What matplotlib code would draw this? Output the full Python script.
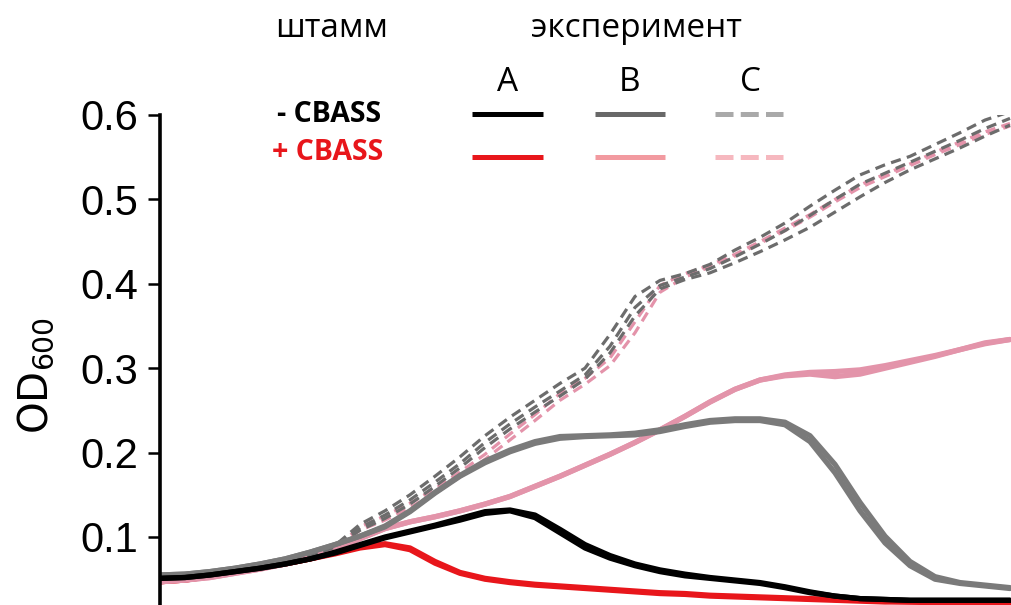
import matplotlib
matplotlib.use("Agg")
import matplotlib.pyplot as plt
from matplotlib.lines import Line2D

plt.rcParams['mathtext.fontset'] = 'custom'
plt.rcParams['mathtext.rm'] = 'Liberation Sans'
plt.rcParams['mathtext.it'] = 'Liberation Sans'

W, H = 1011, 605

# time axis (hours), one sample every 0.25 h
time_h = [0.25 * i for i in range(35)]

# A, -CBASS (black), two replicates
a_minus_1 = [0.051, 0.052, 0.055, 0.059, 0.063, 0.068, 0.074, 0.081, 0.090, 0.099,
             0.106, 0.113, 0.120, 0.128, 0.131, 0.123, 0.105, 0.087, 0.075, 0.066,
             0.059, 0.054, 0.051, 0.048, 0.045, 0.040, 0.034, 0.030, 0.027, 0.026,
             0.025, 0.025, 0.025, 0.025, 0.025]
a_minus_2 = [0.051, 0.052, 0.055, 0.059, 0.063, 0.068, 0.074, 0.082, 0.091, 0.100,
             0.107, 0.114, 0.122, 0.130, 0.132, 0.126, 0.109, 0.091, 0.078, 0.068,
             0.061, 0.056, 0.052, 0.049, 0.046, 0.041, 0.035, 0.030, 0.027, 0.026,
             0.025, 0.025, 0.025, 0.025, 0.025]
# A, +CBASS (red)
a_plus_1 = [0.047, 0.049, 0.053, 0.058, 0.063, 0.068, 0.074, 0.080, 0.087, 0.091,
            0.085, 0.069, 0.057, 0.050, 0.046, 0.043, 0.041, 0.039, 0.037, 0.035,
            0.033, 0.032, 0.030, 0.029, 0.028, 0.027, 0.026, 0.025, 0.024, 0.023,
            0.023, 0.022, 0.022, 0.021, 0.021]
a_plus_2 = [0.047, 0.049, 0.053, 0.058, 0.063, 0.068, 0.074, 0.081, 0.088, 0.092,
            0.087, 0.071, 0.058, 0.051, 0.047, 0.044, 0.042, 0.040, 0.038, 0.036,
            0.034, 0.033, 0.031, 0.030, 0.029, 0.028, 0.027, 0.026, 0.025, 0.024,
            0.023, 0.023, 0.022, 0.022, 0.021]
# B, -CBASS (grey)
b_minus_1 = [0.055, 0.056, 0.059, 0.063, 0.068, 0.074, 0.082, 0.091, 0.101, 0.112,
             0.130, 0.152, 0.172, 0.188, 0.201, 0.211, 0.217, 0.219, 0.220, 0.221,
             0.225, 0.231, 0.236, 0.238, 0.238, 0.233, 0.213, 0.176, 0.131, 0.093,
             0.066, 0.050, 0.045, 0.042, 0.039]
b_minus_2 = [0.055, 0.056, 0.059, 0.063, 0.068, 0.074, 0.082, 0.091, 0.101, 0.113,
             0.131, 0.153, 0.173, 0.190, 0.203, 0.213, 0.219, 0.220, 0.221, 0.223,
             0.227, 0.233, 0.238, 0.240, 0.240, 0.236, 0.220, 0.186, 0.141, 0.101,
             0.071, 0.053, 0.046, 0.043, 0.040]
# B, +CBASS (pink)
b_plus_1 = [0.047, 0.049, 0.052, 0.057, 0.062, 0.068, 0.076, 0.086, 0.098, 0.110,
            0.118, 0.124, 0.131, 0.139, 0.148, 0.160, 0.172, 0.185, 0.198, 0.212,
            0.227, 0.243, 0.260, 0.275, 0.286, 0.292, 0.295, 0.296, 0.298, 0.303,
            0.309, 0.315, 0.322, 0.329, 0.334]
b_plus_2 = [0.047, 0.049, 0.052, 0.057, 0.062, 0.068, 0.076, 0.086, 0.098, 0.110,
            0.118, 0.124, 0.131, 0.139, 0.148, 0.160, 0.172, 0.185, 0.198, 0.212,
            0.227, 0.243, 0.260, 0.275, 0.286, 0.291, 0.293, 0.290, 0.293, 0.300,
            0.307, 0.314, 0.322, 0.330, 0.334]
# C, -CBASS (grey dashed), three replicates
c_minus_1 = [0.052, 0.053, 0.056, 0.060, 0.065, 0.071, 0.079, 0.090, 0.115, 0.131,
             0.150, 0.172, 0.195, 0.220, 0.242, 0.262, 0.282, 0.300, 0.340, 0.385,
             0.404, 0.412, 0.423, 0.440, 0.455, 0.472, 0.492, 0.511, 0.529, 0.541,
             0.551, 0.565, 0.579, 0.594, 0.604]
c_minus_2 = [0.052, 0.053, 0.056, 0.060, 0.065, 0.071, 0.079, 0.089, 0.111, 0.126,
             0.144, 0.165, 0.187, 0.212, 0.234, 0.254, 0.273, 0.292, 0.326, 0.372,
             0.398, 0.408, 0.418, 0.432, 0.447, 0.463, 0.481, 0.500, 0.518, 0.531,
             0.544, 0.557, 0.570, 0.584, 0.596]
c_minus_3 = [0.051, 0.052, 0.055, 0.059, 0.064, 0.070, 0.078, 0.088, 0.108, 0.122,
             0.139, 0.160, 0.182, 0.206, 0.228, 0.248, 0.267, 0.287, 0.318, 0.362,
             0.394, 0.405, 0.413, 0.425, 0.438, 0.452, 0.467, 0.485, 0.503, 0.520,
             0.535, 0.548, 0.561, 0.575, 0.588]
# C, +CBASS (pink dashed), two replicates
c_plus_1 = [0.048, 0.050, 0.053, 0.057, 0.062, 0.068, 0.076, 0.087, 0.112, 0.125,
            0.140, 0.157, 0.177, 0.198, 0.222, 0.245, 0.270, 0.288, 0.312, 0.355,
            0.398, 0.412, 0.422, 0.435, 0.450, 0.466, 0.482, 0.500, 0.517, 0.530,
            0.542, 0.556, 0.568, 0.580, 0.590]
c_plus_2 = [0.048, 0.050, 0.053, 0.057, 0.062, 0.068, 0.076, 0.087, 0.108, 0.120,
            0.135, 0.152, 0.171, 0.192, 0.215, 0.238, 0.262, 0.281, 0.303, 0.342,
            0.390, 0.408, 0.420, 0.433, 0.448, 0.463, 0.479, 0.497, 0.514, 0.527,
            0.540, 0.553, 0.565, 0.577, 0.587]

y_ticks = [0.1, 0.2, 0.3, 0.4, 0.5, 0.6]
y_tick_labels = ["0.1", "0.2", "0.3", "0.4", "0.5", "0.6"]

# colours
BLACK = "#000000"
RED = "#e8161b"
GREY = "#7a7a7a"
PINK = "#e394aa"
GREY_D = "#6c6c6c"
PINK_D = "#e493aa"

fig = plt.figure(figsize=(W / 100, H / 100), dpi=100)

def fx(px):
    return px / W

def fy(py):
    return 1 - py / H

ax = fig.add_axes([fx(160), 0.0, 1 - fx(160), fy(115)])

lw_solid = 3.8
common = dict(solid_joinstyle='round', solid_capstyle='round')
for y in (a_plus_1, a_plus_2):
    ax.plot(time_h, y, color=RED, lw=lw_solid, **common)
for y in (b_plus_1, b_plus_2):
    ax.plot(time_h, y, color=PINK, lw=lw_solid, **common)
for y in (c_plus_1, c_plus_2):
    ax.plot(time_h, y, color=PINK_D, lw=2.3, dashes=(3.2, 2.0))
for y in (c_minus_1, c_minus_2, c_minus_3):
    ax.plot(time_h, y, color=GREY_D, lw=2.3, dashes=(3.2, 2.0))
for y in (b_minus_1, b_minus_2):
    ax.plot(time_h, y, color=GREY, lw=lw_solid, **common)
for y in (a_minus_1, a_minus_2):
    ax.plot(time_h, y, color=BLACK, lw=lw_solid, **common)

ax.set_xlim(0, (W - 160) / 100)
ax.set_ylim(0.6 - 490 / 844, 0.6)
ax.set_yticks(y_ticks)
ax.set_yticklabels(y_tick_labels, fontfamily='Liberation Sans', fontsize=30)
ax.tick_params(axis='y', direction='out', length=8.5, width=1.8, pad=7)
ax.set_xticks([])
for s in ('top', 'right', 'bottom'):
    ax.spines[s].set_visible(False)
ax.spines['left'].set_linewidth(2.6)
ax.spines['left'].set_capstyle('projecting')

fig.text(fx(36), fy(375), r'$\mathregular{OD_{600}}$', rotation=90,
         ha='center', va='center', fontsize=29)

# legend header texts
fig.text(fx(332), fy(37), "штамм", family='Open Sans', fontsize=24,
         ha='center', va='baseline')
fig.text(fx(636), fy(37), "эксперимент", family='Open Sans', fontsize=24,
         ha='center', va='baseline')
for lbl, cx in (("A", 508), ("B", 630), ("C", 750)):
    fig.text(fx(cx), fy(91), lbl, family='Open Sans', fontsize=24,
             ha='center', va='baseline')
fig.text(fx(381), fy(114), "- CBASS", family='Open Sans', fontweight='bold',
         fontsize=20.5, ha='right', va='center', color=BLACK)
fig.text(fx(383), fy(153), "+ CBASS", family='Open Sans', fontweight='bold',
         fontsize=20.5, ha='right', va='center', color=RED)

# legend samples
def leg_line(x0, x1, py, color, dashed=False):
    kw = dict(color=color, lw=3.6, transform=fig.transFigure,
              solid_capstyle='butt', dash_capstyle='butt')
    if dashed:
        kw['dashes'] = (3.6, 1.45)
    fig.add_artist(Line2D([fx(x0), fx(x1)], [fy(py), fy(py)], **kw))

leg_line(472, 543, 114, BLACK)
leg_line(472, 543, 157, RED)
leg_line(595, 665, 114, "#686868")
leg_line(595, 665, 157, "#f29aa0")
leg_line(715, 783, 114, "#a9a9a9", dashed=True)
leg_line(715, 783, 157, "#f6b8bf", dashed=True)

fig.savefig("out.png", dpi=100)
